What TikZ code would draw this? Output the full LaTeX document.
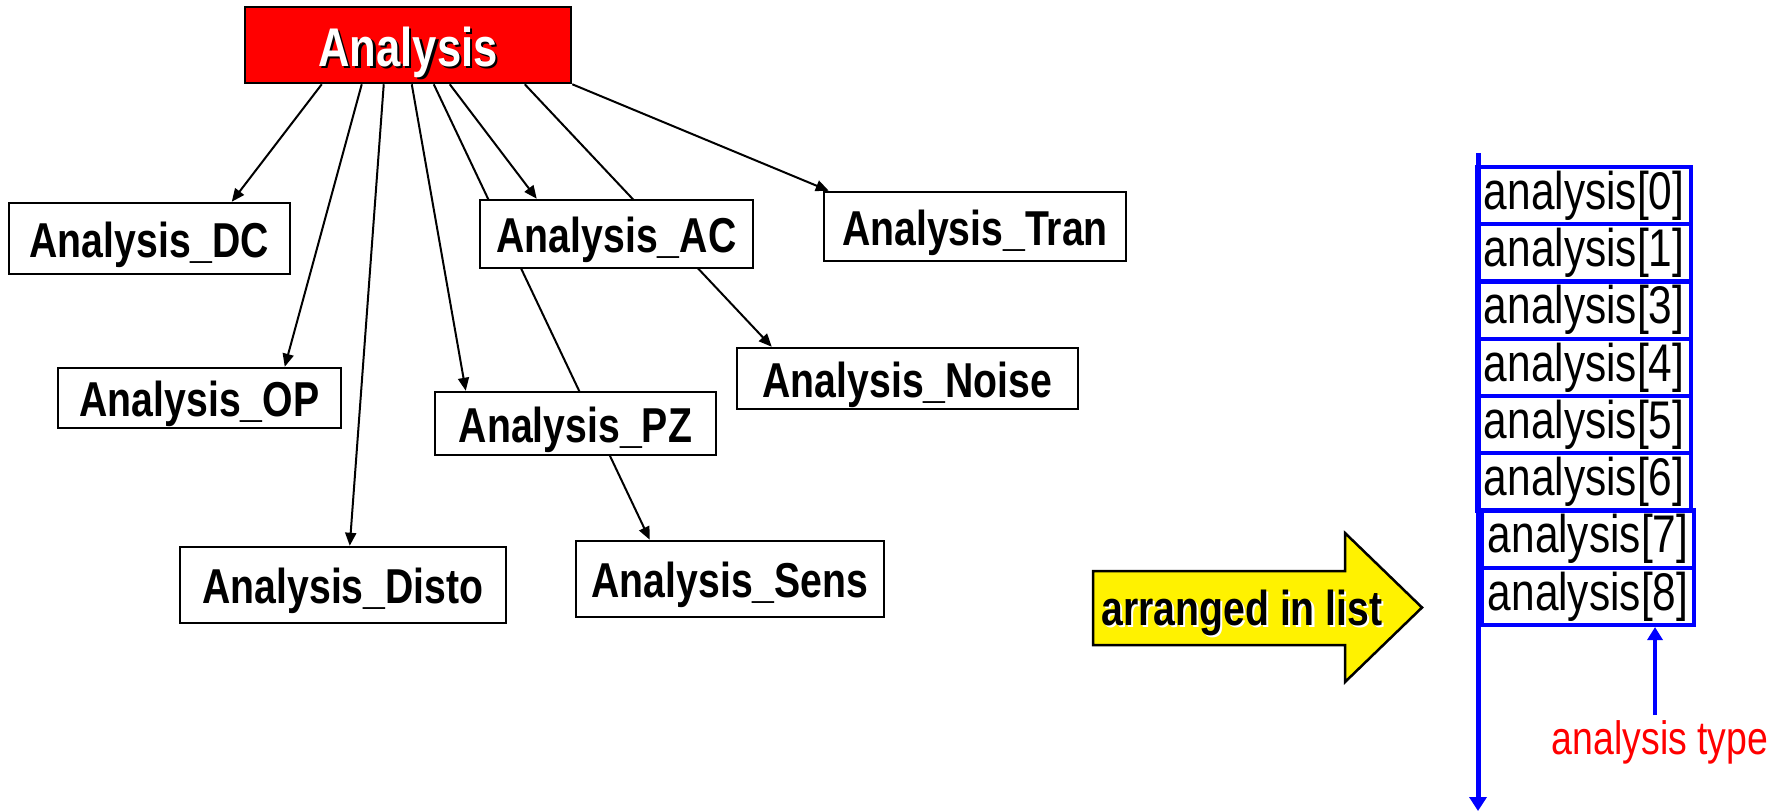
\documentclass[tikz,border=0pt]{standalone}
\usepackage{fontspec}
\setmainfont{Liberation Sans}[FakeStretch=0.8]
\usetikzlibrary{arrows.meta,calc,backgrounds}
% text with an offset copy behind it: #1 text, #2 shadow colour, #3 text colour
\newcommand{\shadowed}[3]{%
  \makebox[0pt][l]{\hspace*{1.1pt}\raisebox{-1.1pt}{\textcolor{#2}{#1}}}\textcolor{#3}{#1}}
\begin{document}
\begin{tikzpicture}[x=0.5pt,y=-0.5pt,
  leaf/.style={draw=black, line width=1.25pt, fill=white, inner sep=0pt,
    text height=18.5pt, text depth=0pt,
    font=\bfseries\fontsize{24.5pt}{26pt}\selectfont},
  link/.style={line width=1pt, -{Triangle[length=6.5pt,width=5.5pt]}},
  slot/.style={draw=blue, line width=2pt, inner sep=0pt, minimum height=28.625pt,
    font=\fontsize{26.5pt}{28pt}\selectfont},
  slotA/.style={slot, minimum width=107pt},
  slotB/.style={slot, minimum width=106pt},
]
\useasboundingbox (0,0) rectangle (1786,811);

% root class
\node[draw=black, line width=1.25pt, fill=red, inner sep=0pt,
      minimum width=163pt, minimum height=38pt,
      text height=21.5pt, text depth=0pt,
      font=\bfseries\fontsize{27.25pt}{29pt}\selectfont]
  (an) at (408,45) {\shadowed{Analysis}{black}{white}};

% derived classes
\node[leaf, minimum width=140.5pt, minimum height=35.5pt] (dc)    at (149.5,238.5) {Analysis\_DC};
\node[leaf, minimum width=141.5pt, minimum height=30pt]   (op)    at (199.5,398)   {Analysis\_OP};
\node[leaf, minimum width=163pt,   minimum height=38pt]   (disto) at (343,585)     {Analysis\_Disto};
\node[leaf, minimum width=136.5pt, minimum height=34pt]   (ac)    at (616.5,234)   {Analysis\_AC};
\node[leaf, minimum width=140.5pt, minimum height=31.5pt] (pz)    at (575.5,423.5) {Analysis\_PZ};
\node[leaf, minimum width=170.5pt, minimum height=30.5pt] (noise) at (907.5,378.5) {Analysis\_Noise};
\node[leaf, minimum width=154pt,   minimum height=38pt]   (sens)  at (730,579)     {Analysis\_Sens};
\node[leaf, minimum width=151pt,   minimum height=34.5pt] (tran)  at (975,226.5)   {Analysis\_Tran};

% inheritance links, passing behind the boxes
\begin{scope}[on background layer]
  \draw[link] ($(an.south west)+(78,0)$)  -- ($(dc.north west)+(224,0)$);
  \draw[link] ($(an.south west)+(118,0)$) -- ($(op.north west)+(228,0)$);
  \draw[link] ($(an.south west)+(140,0)$) -- ($(disto.north west)+(171,0)$);
  \draw[link] ($(an.south west)+(168,0)$) -- ($(pz.north west)+(32,0)$);
  \draw[link] ($(an.south west)+(190,0)$) -- ($(sens.north west)+(75,0)$);
  \draw[link] ($(an.south west)+(206,0)$) -- ($(ac.north west)+(58,0)$);
  \draw[link] ($(an.south west)+(281,0)$) -- ($(noise.north west)+(36,0)$);
  \draw[link] (an.south east) -- ($(tran.north west)+(6,0)$);
\end{scope}

% block arrow
\draw[line width=1.25pt, fill=yellow]
  (1093,571) -- (1345,571) -- (1345,533) -- (1422,607.5) -- (1345,682)
  -- (1345,645) -- (1093,645) -- cycle;
\node[anchor=base west, inner sep=0pt, font=\bfseries\fontsize{24.5pt}{26pt}\selectfont]
  (arr) at (1101,625) {\shadowed{arranged in list}{white}{black}};

% analysis list
\node[slotA] (r0) at (1584,195.6) {analysis[0]};
\node[slotA] (r1) at (1584,252.9) {analysis[1]};
\node[slotA] (r3) at (1584,310.1) {analysis[3]};
\node[slotA] (r4) at (1584,367.4) {analysis[4]};
\node[slotA] (r5) at (1584,424.6) {analysis[5]};
\node[slotA] (r6) at (1584,481.9) {analysis[6]};
\node[slotB] (r7) at (1588,539.1) {analysis[7]};
\node[slotB] (r8) at (1588,596.4) {analysis[8]};

\coordinate (ltop) at (1478,153);
\coordinate (lbot) at (1478,811);
\draw[blue, line width=2.5pt, -{Triangle[length=7pt,width=8.5pt]}] (ltop) -- (lbot);

% label for the type field
\node[anchor=base, inner sep=0pt, text=red, font=\fontsize{23.4pt}{25pt}\selectfont]
  (typ) at (1660,754) {analysis type};
\coordinate (tstart) at (1655,715);
\draw[blue, line width=2pt, -{Triangle[length=6.5pt,width=7.5pt]}] (tstart) -- (tstart |- r8.south);
\end{tikzpicture}
\end{document}
